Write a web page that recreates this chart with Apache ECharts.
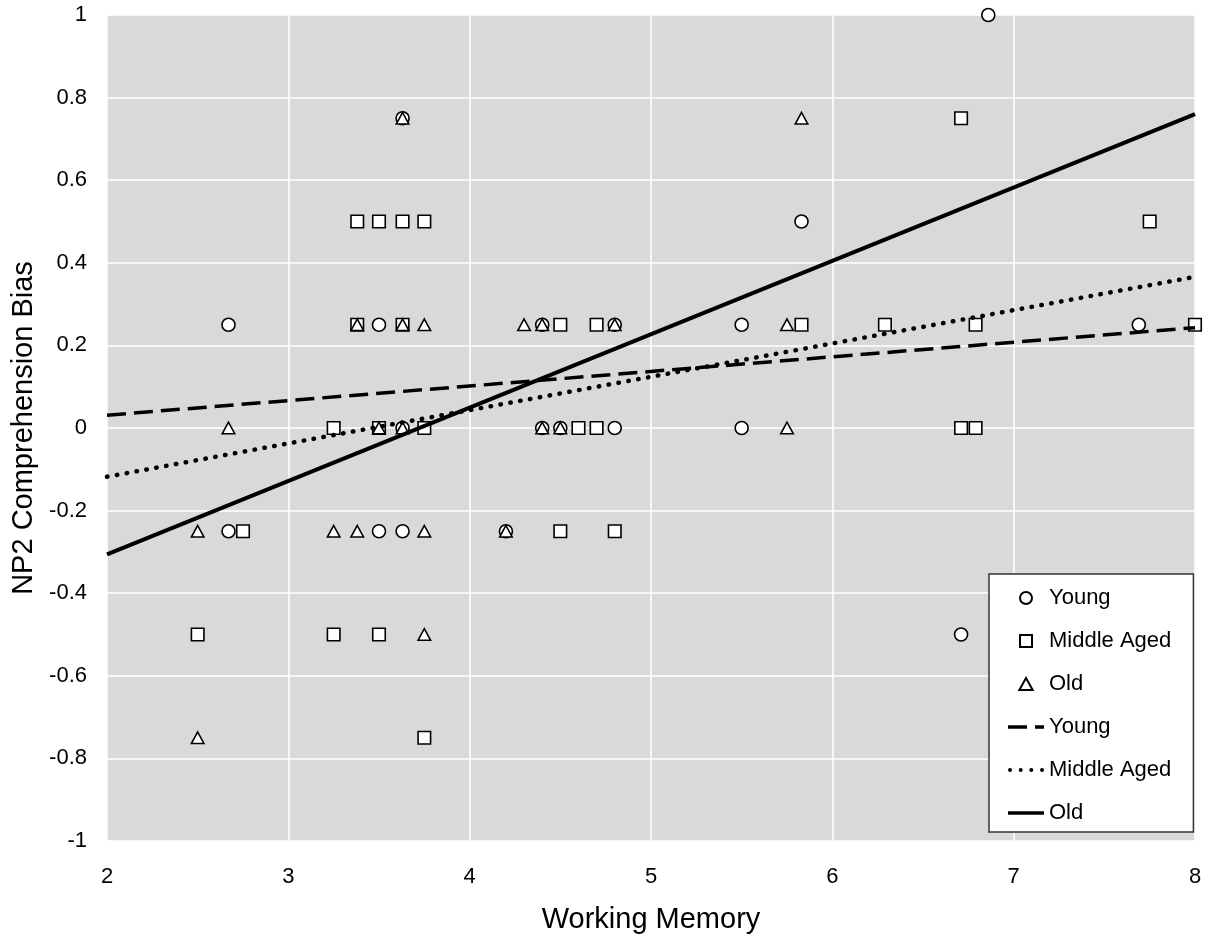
<!DOCTYPE html>
<html>
<head>
<meta charset="utf-8">
<script src="https://cdn.jsdelivr.net/npm/echarts@6/dist/echarts.min.js"></script>
<style>html,body{margin:0;padding:0;background:#fff;}#c{width:1218px;height:944px;}</style>
</head>
<body>
<div id="c"></div>
<script>
// Scatter data: [working memory, NP2 comprehension bias]
var youngPoints = [
  [6.86, 1.0], [3.63, 0.75], [5.83, 0.5],
  [2.67, 0.25], [3.5, 0.25], [4.4, 0.25], [4.8, 0.25], [5.5, 0.25], [7.69, 0.25],
  [3.63, 0], [4.4, 0], [4.5, 0], [4.8, 0], [5.5, 0],
  [2.67, -0.25], [3.5, -0.25], [3.63, -0.25], [4.2, -0.25],
  [6.71, -0.5]
];
var middlePoints = [
  [6.71, 0.75],
  [3.38, 0.5], [3.5, 0.5], [3.63, 0.5], [3.75, 0.5], [7.75, 0.5],
  [3.38, 0.25], [3.63, 0.25], [4.5, 0.25], [4.7, 0.25], [5.83, 0.25], [6.29, 0.25], [6.79, 0.25], [8.0, 0.25],
  [3.25, 0], [3.5, 0], [3.75, 0], [4.6, 0], [4.7, 0], [6.71, 0], [6.79, 0],
  [2.75, -0.25], [4.5, -0.25], [4.8, -0.25],
  [2.5, -0.5], [3.25, -0.5], [3.5, -0.5],
  [3.75, -0.75]
];
var oldPoints = [
  [3.63, 0.75], [5.83, 0.75],
  [3.38, 0.25], [3.63, 0.25], [3.75, 0.25], [4.3, 0.25], [4.4, 0.25], [4.8, 0.25], [5.75, 0.25],
  [2.67, 0], [3.5, 0], [3.63, 0], [4.4, 0], [4.5, 0], [5.75, 0],
  [2.5, -0.25], [3.25, -0.25], [3.38, -0.25], [3.75, -0.25], [4.2, -0.25],
  [3.75, -0.5],
  [2.5, -0.75]
];
// Fitted lines (end points)
var youngFit = [[2, 0.031], [8, 0.243]];
var middleFit = [[2, -0.118], [8, 0.366]];
var oldFit = [[2, -0.306], [8, 0.760]];

var xTitle = 'Working Memory';
var yTitle = 'NP2 Comprehension Bias';

var FONT = '"Liberation Sans", Arial, Helvetica, sans-serif';
var markerStyle = { color: '#ffffff', borderColor: '#000000', borderWidth: 1.6, opacity: 1 };
var sqPath = 'path://M0,0L10,0L10,10L0,10Z';
var triPath = 'path://M5,0L10,9L0,9Z';
var solidIcon = 'path://M0,0L36,0L36,3.5L0,3.5Z';
var dashIcon = 'path://M0,0L19,0L19,3.5L0,3.5ZM27,0L36,0L36,3.5L27,3.5Z';
var dotIcon = 'path://M0,2a2,2 0 1,0 4,0a2,2 0 1,0 -4,0ZM10.7,2a2,2 0 1,0 4,0a2,2 0 1,0 -4,0ZM21.3,2a2,2 0 1,0 4,0a2,2 0 1,0 -4,0ZM32,2a2,2 0 1,0 4,0a2,2 0 1,0 -4,0Z';
var blackIcon = { color: '#000', borderWidth: 0, opacity: 1 };

var chart = echarts.init(document.getElementById('c'), null, { renderer: 'canvas' });
chart.setOption({
  animation: false,
  backgroundColor: '#ffffff',
  grid: {
    left: 107, right: 23, top: 15, bottom: 103,
    containLabel: false, outerBoundsMode: 'none',
    show: true, backgroundColor: '#d9d9d9', borderWidth: 0
  },
  xAxis: {
    type: 'value', min: 2, max: 8, interval: 1,
    name: xTitle, nameLocation: 'middle', nameGap: 64,
    nameTextStyle: { fontFamily: FONT, fontSize: 29, color: '#000' },
    axisLine: { show: false }, axisTick: { show: false },
    axisLabel: { fontFamily: FONT, fontSize: 22, color: '#000', margin: 25 },
    splitLine: { show: true, lineStyle: { color: '#ffffff', width: 1.5 } }
  },
  yAxis: {
    type: 'value', min: -1, max: 1, interval: 0.2,
    name: yTitle, nameLocation: 'middle', nameGap: 60,
    nameTextStyle: { fontFamily: FONT, fontSize: 29, color: '#000' },
    axisLine: { show: false }, axisTick: { show: false },
    axisLabel: { fontFamily: FONT, fontSize: 22, color: '#000', margin: 20,
      formatter: function (v) { return String(Math.round(v * 10) / 10); } },
    splitLine: { show: true, lineStyle: { color: '#ffffff', width: 1.5 } }
  },
  legend: {
    orient: 'vertical', left: 989, top: 574,
    padding: [13, 16, 8, 19],
    itemWidth: 36, itemHeight: 12, itemGap: 21,
    backgroundColor: '#ffffff', borderColor: '#333333', borderWidth: 1.5, borderRadius: 0,
    textStyle: { fontFamily: FONT, fontSize: 22, color: '#000' },
    data: [
      { name: 'Young', icon: 'circle' },
      { name: 'Middle Aged', icon: sqPath },
      { name: 'Old', icon: triPath },
      { name: 'Young ', icon: dashIcon, itemStyle: blackIcon },
      { name: 'Middle Aged ', icon: dotIcon, itemStyle: blackIcon },
      { name: 'Old ', icon: solidIcon, itemStyle: blackIcon }
    ]
  },
  series: [
    { name: 'Young', type: 'scatter', data: youngPoints, symbol: 'circle', symbolSize: 13,
      itemStyle: markerStyle, clip: false, z: 2 },
    { name: 'Middle Aged', type: 'scatter', data: middlePoints, symbol: 'rect', symbolSize: 12.5,
      itemStyle: markerStyle, clip: false, z: 3 },
    { name: 'Old', type: 'scatter', data: oldPoints, symbol: 'triangle', symbolSize: [12.5, 11.5],
      itemStyle: markerStyle, clip: false, z: 4 },
    { name: 'Young ', type: 'line', data: youngFit, symbol: 'none', z: 5,
      lineStyle: { color: '#000', width: 3.5, type: [19, 8] }, itemStyle: { color: '#000' } },
    { name: 'Middle Aged ', type: 'line', data: middleFit, symbol: 'none', z: 5,
      lineStyle: { color: '#000', width: 4.5, type: [0.5, 9.5], cap: 'round' }, itemStyle: { color: '#000' } },
    { name: 'Old ', type: 'line', data: oldFit, symbol: 'none', z: 5,
      lineStyle: { color: '#000', width: 4, type: 'solid' }, itemStyle: { color: '#000' } }
  ]
});
</script>
</body>
</html>
